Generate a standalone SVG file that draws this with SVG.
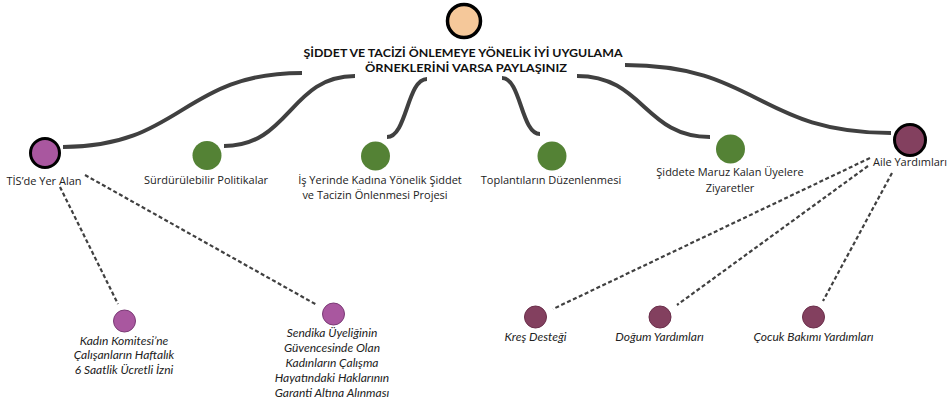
<svg xmlns="http://www.w3.org/2000/svg" width="952" height="408" viewBox="0 0 952 408">
  <style>
    .title { font-family: Lato, "Open Sans", "Liberation Sans", sans-serif; font-weight: bold; font-size: 12px; fill: #111; text-anchor: middle; }
    .lbl { font-family: "Open Sans", "Liberation Sans", sans-serif; font-size: 11px; fill: #222; text-anchor: middle; }
    .sub { font-family: Lato, "Liberation Sans", sans-serif; font-style: italic; font-size: 12px; fill: #222; text-anchor: middle; }
    .main { stroke: #404040; stroke-width: 4; fill: none; }
    .dash { stroke: #404040; stroke-width: 2.2; fill: none; stroke-dasharray: 4 2.5; }
    .peach { fill: #F5C89A; stroke: #000; stroke-width: 3.5; }
    .hub-purple { fill: #A9579F; stroke: #000; stroke-width: 3; }
    .hub-plum { fill: #83405F; stroke: #000; stroke-width: 3; }
    .green { fill: #548235; }
    .purple { fill: #A9579F; stroke: #7A3A75; stroke-width: 1; }
    .plum { fill: #83405F; stroke: #6A2E4A; stroke-width: 1; }
  </style>

  <g id="connectors">
    <path class="main" d="M302,73 C182,73 182,147 63,147"/>
    <path class="main" d="M355,76 C290,76 290,146 224,146"/>
    <path class="main" d="M427,79 C407,79 407,137 387,137"/>
    <path class="main" d="M502,78 C521,78 521,134 540,134"/>
    <path class="main" d="M577,76 C644,76 644,137 710,137"/>
    <path class="main" d="M625,65 C758,65 758,133 891,133"/>
    <path class="dash" d="M60,187 L118,304"/>
    <path class="dash" d="M85,175 L317,305"/>
    <path class="dash" d="M870,158 L553,309"/>
    <path class="dash" d="M868,166 L677,305"/>
    <path class="dash" d="M892,173 L823,301"/>
  </g>

  <g id="root">
    <circle class="peach" cx="464" cy="21" r="16.5"/>
    <text class="title" x="463" y="57" textLength="319" lengthAdjust="spacingAndGlyphs">ŞİDDET VE TACİZİ ÖNLEMEYE YÖNELİK İYİ UYGULAMA</text>
    <text class="title" x="466" y="72" textLength="202" lengthAdjust="spacingAndGlyphs">ÖRNEKLERİNİ VARSA PAYLAŞINIZ</text>
  </g>

  <g id="tis">
    <circle class="hub-purple" cx="45" cy="153" r="14.5"/>
    <text class="lbl" x="44" y="185">TİS’de Yer Alan</text>
  </g>

  <g id="surdurulebilir">
    <circle class="green" cx="207" cy="155.5" r="14.5"/>
    <text class="lbl" x="206" y="184">Sürdürülebilir Politikalar</text>
  </g>

  <g id="is-yerinde">
    <circle class="green" cx="375.5" cy="156" r="14.5"/>
    <text class="lbl" x="380" y="184">İş Yerinde Kadına Yönelik Şiddet</text>
    <text class="lbl" x="375" y="199">ve Tacizin Önlenmesi Projesi</text>
  </g>

  <g id="toplantilar">
    <circle class="green" cx="552" cy="156" r="14.5"/>
    <text class="lbl" x="551" y="184">Toplantıların Düzenlenmesi</text>
  </g>

  <g id="ziyaretler">
    <circle class="green" cx="730.5" cy="149" r="14.5"/>
    <text class="lbl" x="730" y="176">Şiddete Maruz Kalan Üyelere</text>
    <text class="lbl" x="730" y="192">Ziyaretler</text>
  </g>

  <g id="aile">
    <circle class="hub-plum" cx="910" cy="140" r="15.5"/>
    <text class="lbl" x="910" y="166">Aile Yardımları</text>
  </g>

  <g id="kadin-komitesi">
    <circle class="purple" cx="124.5" cy="321" r="11"/>
    <text class="sub" x="124" y="345">Kadın Komitesi’ne</text>
    <text class="sub" x="124" y="359">Çalışanların Haftalık</text>
    <text class="sub" x="124" y="374">6 Saatlik Ücretli İzni</text>
  </g>

  <g id="sendika">
    <circle class="purple" cx="333.5" cy="314" r="11"/>
    <text class="sub" x="332" y="337">Sendika Üyeliğinin</text>
    <text class="sub" x="332" y="352">Güvencesinde Olan</text>
    <text class="sub" x="332" y="367">Kadınların Çalışma</text>
    <text class="sub" x="332" y="382">Hayatındaki Haklarının</text>
    <text class="sub" x="332" y="397">Garanti Altına Alınması</text>
  </g>

  <g id="kres">
    <circle class="plum" cx="535.5" cy="317" r="11"/>
    <text class="sub" x="535.5" y="341">Kreş Desteği</text>
  </g>

  <g id="dogum">
    <circle class="plum" cx="660" cy="317" r="11"/>
    <text class="sub" x="659.5" y="341">Doğum Yardımları</text>
  </g>

  <g id="cocuk">
    <circle class="plum" cx="813.5" cy="317" r="11"/>
    <text class="sub" x="813.5" y="341">Çocuk Bakımı Yardımları</text>
  </g>
</svg>
